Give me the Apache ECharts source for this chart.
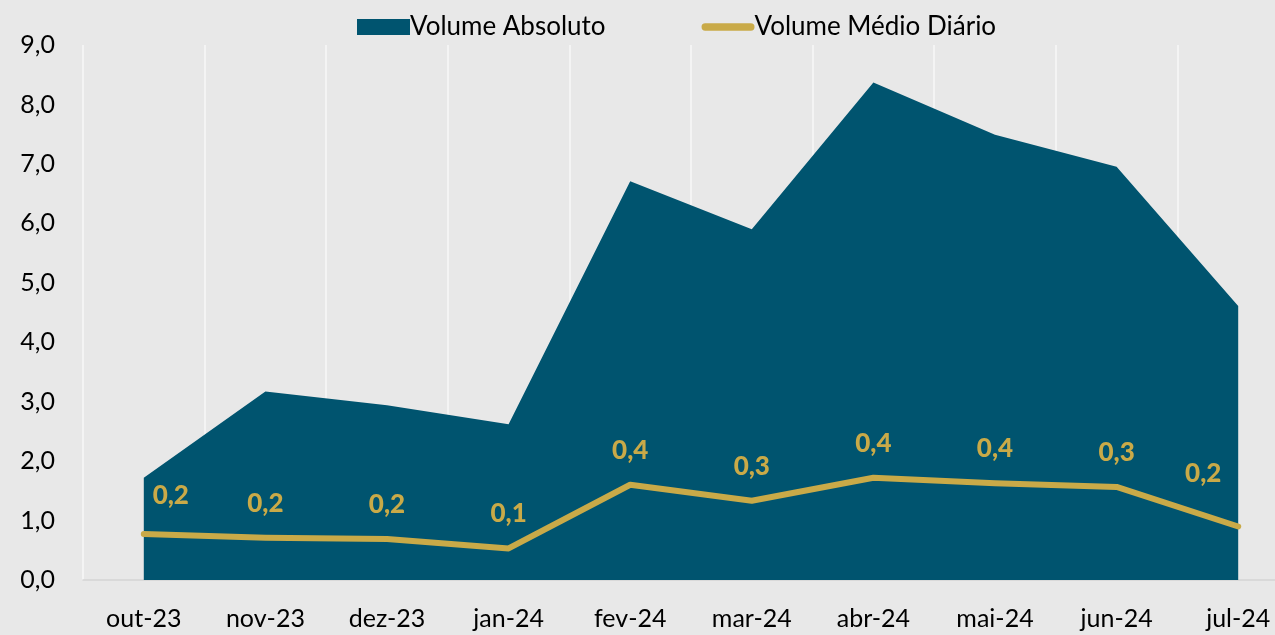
<!DOCTYPE html>
<html>
<head>
<meta charset="utf-8">
<script src="https://cdn.jsdelivr.net/npm/echarts@6/dist/echarts.min.js"></script>
<style>
  html, body { margin: 0; padding: 0; background: #e8e8e8; }
  #chart { width: 1275px; height: 635px; }
</style>
</head>
<body>
<div id="chart"></div>
<script>
// meses
const categories = ['out-23', 'nov-23', 'dez-23', 'jan-24', 'fev-24', 'mar-24', 'abr-24', 'mai-24', 'jun-24', 'jul-24']
// volume absoluto (eixo esquerdo)
const volumeAbsoluto = [1.72, 3.17, 2.94, 2.62, 6.71, 5.90, 8.37, 7.49, 6.95, 4.61]
// volume medio diario (eixo secundario, oculto)
const volumeMedio = [0.172, 0.158, 0.153, 0.118, 0.356, 0.296, 0.382, 0.362, 0.348, 0.200]

const fmt = v => v.toFixed(1).replace('.', ',')
const gold = '#c9aa48'
const navy = '#00546f'
const font = 'Lato, "Noto Sans", sans-serif'

// ajuste fino dos rotulos da primeira e ultima ponta
const labelOffsets = { 0: [27, -4], 9: [-35, -18] }

const chart = echarts.init(document.getElementById('chart'))
chart.setOption({
  animation: false,
  backgroundColor: '#e8e8e8',
  textStyle: { fontFamily: font },
  legend: {
    top: 9,
    left: 352,
    itemGap: 96,
    itemWidth: 53,
    itemHeight: 16,
    textStyle: { fontSize: 26, color: '#000', fontFamily: font, padding: [0, 0, 0, -5] },
    data: [
      { name: 'Volume Absoluto', icon: 'rect' },
      { name: 'Volume Médio Diário', icon: 'path://M7,0 L93,0 A7,7 0 0 1 93,14 L7,14 A7,7 0 0 1 7,0 Z', itemStyle: { color: gold } }
    ]
  },
  grid: {
    left: 83,
    top: 45,
    right: -24,
    bottom: 55,
    outerBoundsMode: 'none',
    containLabel: false
  },
  xAxis: {
    type: 'category',
    data: categories,
    boundaryGap: true,
    axisTick: { show: false },
    axisLine: { lineStyle: { color: '#d4d4d4', width: 1.5 } },
    axisLabel: { color: '#000', fontSize: 25, margin: 26, fontFamily: font },
    splitLine: { show: true, lineStyle: { color: '#f4f4f4', width: 2 } }
  },
  yAxis: [
    {
      type: 'value',
      min: 0,
      max: 9,
      interval: 1,
      axisLine: { show: false },
      axisTick: { show: false },
      splitLine: { show: false },
      axisLabel: { color: '#000', fontSize: 25, margin: 28, fontFamily: font, formatter: fmt }
    },
    {
      type: 'value',
      min: 0,
      max: 2,
      show: false,
      splitLine: { show: false }
    }
  ],
  series: [
    {
      name: 'Volume Absoluto',
      type: 'line',
      data: volumeAbsoluto,
      symbol: 'none',
      lineStyle: { width: 0 },
      itemStyle: { color: navy },
      areaStyle: { color: navy, opacity: 1 },
      z: 2
    },
    {
      name: 'Volume Médio Diário',
      type: 'line',
      yAxisIndex: 1,
      data: volumeMedio.map((v, i) => labelOffsets[i]
        ? { value: v, label: { offset: labelOffsets[i] } }
        : v),
      symbol: 'circle',
      symbolSize: 1,
      showSymbol: true,
      lineStyle: { color: gold, width: 6, cap: 'round', join: 'round' },
      itemStyle: { color: gold },
      label: {
        show: true,
        position: 'top',
        distance: 21,
        color: gold,
        fontSize: 26,
        fontWeight: 900,
        fontFamily: font,
        formatter: p => fmt(p.value)
      },
      z: 3
    }
  ]
})
</script>
</body>
</html>
